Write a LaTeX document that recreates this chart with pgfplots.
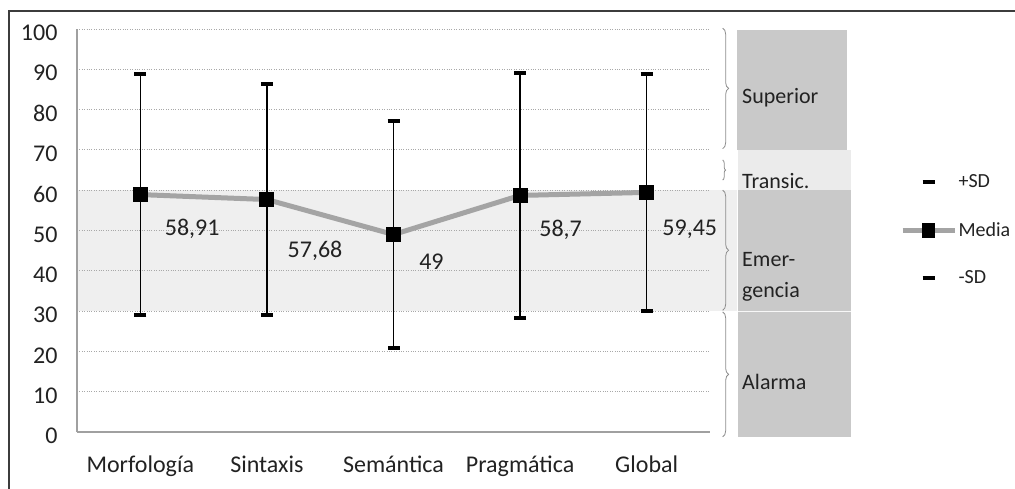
\documentclass[border=0pt]{standalone}
\usepackage{pgfplots}
\pgfplotsset{compat=1.18}
\usepackage{pgfplotstable}
\usepackage{fontspec}
\setmainfont{Carlito}
\usetikzlibrary{decorations.pathreplacing}

\definecolor{framegray}{HTML}{3C3C3C}
\definecolor{axisgray}{HTML}{A0A0A0}
\definecolor{gridgray}{HTML}{A8A8A8}
\definecolor{band}{HTML}{EFEFEF}
\definecolor{panel}{HTML}{C9C9C9}
\definecolor{transic}{HTML}{EBEBEB}
\definecolor{meangray}{HTML}{A4A4A4}
\definecolor{bracegray}{HTML}{8C8C8C}
\definecolor{txt}{HTML}{222222}

% x = category index, y = media, sd = desviacion
\pgfplotstableread{
x y sd
0 58.91 30.0
1 57.68 28.6
2 49.00 28.1
3 58.70 30.5
4 59.45 29.4
}\datos

\pgfplotsset{base/.style={
  at={(77pt,57pt)}, anchor=south west,
  width=633pt, height=403pt, scale only axis,
  xmin=-0.5, xmax=4.5, ymin=0, ymax=100, clip=false}}

\begin{document}
\begin{tikzpicture}
\path[use as bounding box] (0pt,0pt) rectangle (1015pt,489pt);
\draw[line width=2pt, framegray] (9pt,-2pt) -- (9pt,478pt) -- (1017pt,478pt);

% background band and range panel
\begin{axis}[base, hide axis]
\fill[band] (axis cs:-0.5,30) rectangle (axis cs:4.713,60);
\fill[panel] (axis cs:4.713,70) rectangle (axis cs:5.58,99.7);
\fill[transic] (axis cs:4.72,60) rectangle (axis cs:5.61,70);
\fill[panel] (axis cs:4.72,30) rectangle (axis cs:5.61,60);
\fill[panel] (axis cs:4.72,-1.2) rectangle (axis cs:5.61,30);
\draw[white!85!panel, line width=0.8pt] (axis cs:4.72,30) -- (axis cs:5.61,30);
\end{axis}

\begin{axis}[base,
  axis x line=bottom, axis y line=left,
  axis line style={draw=axisgray, line width=1.3pt, -},
  xtick={0,...,4},
  xticklabels={Morfología,Sintaxis,Semántica,Pragmática,Global},
  ytick={0,10,...,100},
  major tick length=0pt,
  ymajorgrids, grid style={dotted, gridgray, line width=0.9pt},
  tick label style={font=\fontsize{24}{28}\selectfont, text=txt},
  /pgf/number format/assume math mode=true,
  yticklabel style={xshift=-16pt, yshift=-4pt},
  xticklabel style={yshift=-20pt},
  legend style={draw=none, fill=none, at={(axis cs:6.0,50.1)}, anchor=west,
    font=\fontsize{20}{24}\selectfont, text=txt, inner sep=0pt,
    row sep=30pt, nodes={inner sep=1.5pt}},
  legend cell align=left,
]
\begin{scope}[bracegray, line width=0.8pt, decoration={brace, amplitude=6pt}]
  \draw[decorate] (axis cs:4.60,100.2) -- (axis cs:4.60,70.3);
  \draw[decorate, decoration={brace, amplitude=3pt}] (axis cs:4.60,67.5) -- (axis cs:4.60,62.5);
  \draw[decorate] (axis cs:4.60,60) -- (axis cs:4.60,30.2);
  \draw[decorate] (axis cs:4.60,29.8) -- (axis cs:4.60,-1.2);
\end{scope}
\begin{scope}[font=\fontsize{22}{26}\selectfont, text=txt, anchor=west, inner sep=0pt]
  \node at (axis cs:4.753,83) {Superior};
  \node at (axis cs:4.753,62.2) {Transic.};
  \node at (axis cs:4.753,42.7) {Emer-};
  \node at (axis cs:4.753,34.7) {gencia};
  \node at (axis cs:4.753,12.4) {Alarma};
\end{scope}

% media with +/- SD
\addplot[meangray, line width=5pt, mark=square*, mark size=7pt,
  mark options={black, solid, line width=0pt}, forget plot,
  error bars/.cd, y dir=both, y explicit, error mark=|,
  error bar style={draw=black, line width=1.4pt, solid},
  error mark options={draw=black, line width=4pt, mark size=6pt}]
  table[x=x, y=y, y error=sd] {\datos};

\begin{scope}[font=\fontsize{24}{28}\selectfont, text=txt]
  \node at (axis cs:0.41,50.4) {58,91};
  \node at (axis cs:1.38,44.9) {57,68};
  \node at (axis cs:2.30,42.2) {49};
  \node at (axis cs:3.32,50.2) {58,7};
  \node at (axis cs:4.34,50.4) {59,45};
\end{scope}

\addlegendimage{legend image code/.code={
  \draw[white, line width=0pt] (0pt,0pt) -- (52pt,0pt);
  \draw[black, line width=3.5pt] (20pt,0pt) -- (32pt,0pt);}}
\addlegendentry{+SD}
\addlegendimage{legend image code/.code={
  \draw[meangray, line width=5pt] (0pt,0pt) -- (52pt,0pt);
  \fill[black] (20pt,-7pt) rectangle (32pt,7pt);}}
\addlegendentry{Media}
\addlegendimage{legend image code/.code={
  \draw[white, line width=0pt] (0pt,0pt) -- (52pt,0pt);
  \draw[black, line width=3.5pt] (20pt,0pt) -- (32pt,0pt);}}
\addlegendentry{-SD}
\end{axis}
\end{tikzpicture}
\end{document}
